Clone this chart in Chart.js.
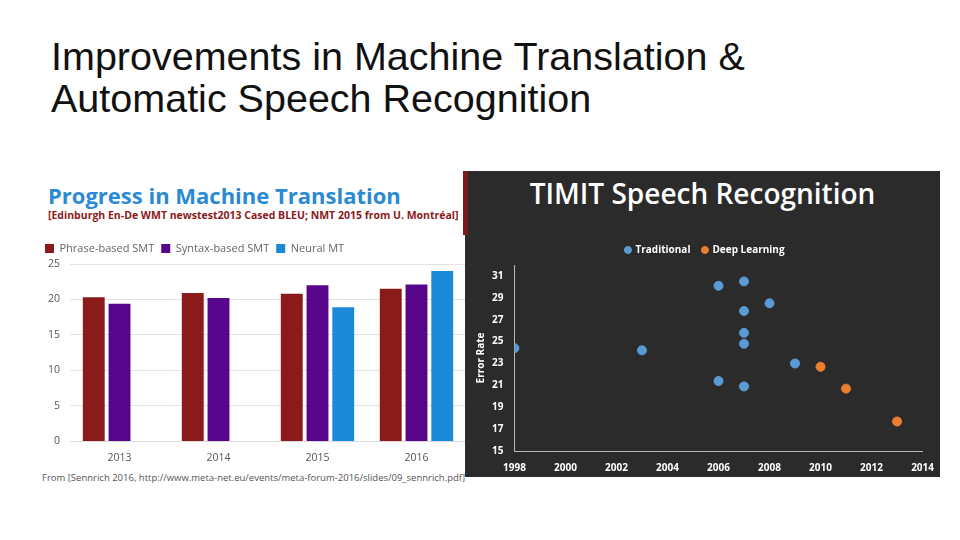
<!DOCTYPE html>
<html>
<head>
<meta charset="utf-8">
<script src="https://cdn.jsdelivr.net/npm/chart.js@4"></script>
<style>
  body { margin: 0; width: 960px; height: 540px; background: #fff; position: relative; overflow: hidden; font-family: "Liberation Sans", Arial, sans-serif; }
  #title { position: absolute; left: 51px; top: 35px; font-size: 39.5px; line-height: 42px; color: #111; }
  #left { position: absolute; left: 38px; top: 176px; width: 428px; height: 310px; }
  #mtTitle { position: absolute; left: 10px; top: 4px; font: bold 22px "Open Sans", sans-serif; color: #2a8ad4; }
  #mtSub { position: absolute; left: 10px; top: 32px; font: bold 10.5px "Open Sans", sans-serif; color: #8b1a1a; }
  #mtFoot { position: absolute; left: 4px; top: 295px; font: 9.5px "Open Sans", sans-serif; color: #555; white-space: nowrap; }
  #mtWrap { position: absolute; left: 0; top: 60px; width: 428px; height: 230px; }
  #right { position: absolute; left: 465px; top: 171px; width: 475px; height: 306px; background: #2b2b2b; }
  #stripe { position: absolute; left: 463px; top: 171px; width: 5px; height: 64px; background: #7a1c1c; }
  #srTitle { position: absolute; left: 0; width: 475px; top: 3px; text-align: center; font: 600 28px "Open Sans", sans-serif; color: #fff; }
  #srWrap { position: absolute; left: 8px; top: 62px; width: 464px; height: 244px; }
</style>
</head>
<body>
<div id="title">Improvements in Machine Translation &amp;<br>Automatic Speech Recognition</div>

<div id="left">
  <div id="mtTitle">Progress in Machine Translation</div>
  <div id="mtSub">[Edinburgh En-De WMT newstest2013 Cased BLEU; NMT 2015 from U. Montréal]</div>
  <div id="mtWrap"><canvas id="mtChart"></canvas></div>
  <div id="mtFoot">From [Sennrich 2016, http://www.meta-net.eu/events/meta-forum-2016/slides/09_sennrich.pdf]</div>
</div>

<div id="right">
  <div id="srTitle">TIMIT Speech Recognition</div>
  <div id="srWrap"><canvas id="srChart"></canvas></div>
</div>
<div id="stripe"></div>

<script>
// 機械翻訳データ (BLEU)
const years = ['2013', '2014', '2015', '2016'];
const phraseBased = [20.3, 20.9, 20.8, 21.5];
const syntaxBased = [19.4, 20.2, 22.0, 22.1];
const neuralMT = [null, null, 18.9, 24.0];

// TIMIT データ (年, エラー率)
const traditionalYears = [1998, 2003, 2006, 2006, 2007, 2007, 2007, 2007, 2007, 2008, 2009];
const traditionalErr = [24.4, 24.2, 30.1, 21.4, 30.5, 27.8, 25.8, 24.8, 20.9, 28.5, 23.0];
const deepYears = [2010, 2011, 2013];
const deepErr = [22.7, 20.7, 17.7];
const errTicks = [15, 17, 19, 21, 23, 25, 27, 29, 31];

const toPoints = (xs, ys) => xs.map((x, i) => ({ x: x, y: ys[i] }));

new Chart(document.getElementById('mtChart'), {
    type: 'bar',
    data: {
        labels: years,
        datasets: [
            { label: 'Phrase-based SMT', data: phraseBased, backgroundColor: '#8b1a1a' },
            { label: 'Syntax-based SMT', data: syntaxBased, backgroundColor: '#57068c' },
            { label: 'Neural MT', data: neuralMT, backgroundColor: '#1a8ad8' }
        ]
    },
    options: {
        animation: false,
        responsive: true,
        maintainAspectRatio: false,
        datasets: { bar: { categoryPercentage: 0.78, barPercentage: 0.85 } },
        plugins: {
            legend: {
                position: 'top', align: 'start',
                labels: { boxWidth: 9, boxHeight: 9, color: '#666', font: { size: 11, family: 'Open Sans' }, padding: 7 }
            },
            tooltip: { enabled: false }
        },
        scales: {
            x: {
                grid: { display: false },
                border: { color: '#ddd' },
                ticks: { color: '#555', font: { size: 10.5, family: 'Open Sans' }, padding: 2 }
            },
            y: {
                min: 0, max: 25,
                ticks: { stepSize: 5, color: '#555', font: { size: 10.5, family: 'Open Sans' }, padding: 10 },
                grid: { color: '#e4e4e4', drawTicks: false },
                border: { display: false }
            }
        }
    }
});

new Chart(document.getElementById('srChart'), {
    type: 'scatter',
    data: {
        datasets: [
            { label: 'Traditional', data: toPoints(traditionalYears, traditionalErr), backgroundColor: '#5b9bd5', borderColor: '#5b9bd5', pointRadius: 4.5 },
            { label: 'Deep Learning', data: toPoints(deepYears, deepErr), backgroundColor: '#ed7d31', borderColor: '#ed7d31', pointRadius: 4.5 }
        ]
    },
    options: {
        animation: false,
        responsive: true,
        maintainAspectRatio: false,
        plugins: {
            legend: {
                labels: { usePointStyle: true, pointStyle: 'circle', boxWidth: 5, boxHeight: 5, color: '#fff', font: { size: 10, weight: 'bold', family: 'Open Sans' }, padding: 12 }
            },
            tooltip: { enabled: false }
        },
        scales: {
            x: {
                min: 1998, max: 2014,
                ticks: { stepSize: 2, color: '#fff', font: { size: 10, weight: 'bold', family: 'Open Sans' }, callback: v => String(v) },
                grid: { display: false, drawTicks: true },
                border: { color: '#bbb' }
            },
            y: {
                min: 15, max: 32,
                afterBuildTicks: axis => { axis.ticks = errTicks.map(v => ({ value: v })); },
                ticks: { color: '#fff', font: { size: 10, weight: 'bold', family: 'Open Sans' } },
                grid: { display: false },
                border: { color: '#bbb' },
                title: { display: true, text: 'Error Rate', color: '#fff', font: { size: 10, weight: 'bold', family: 'Open Sans' }, padding: 2 }
            }
        }
    }
});
</script>
</body>
</html>
